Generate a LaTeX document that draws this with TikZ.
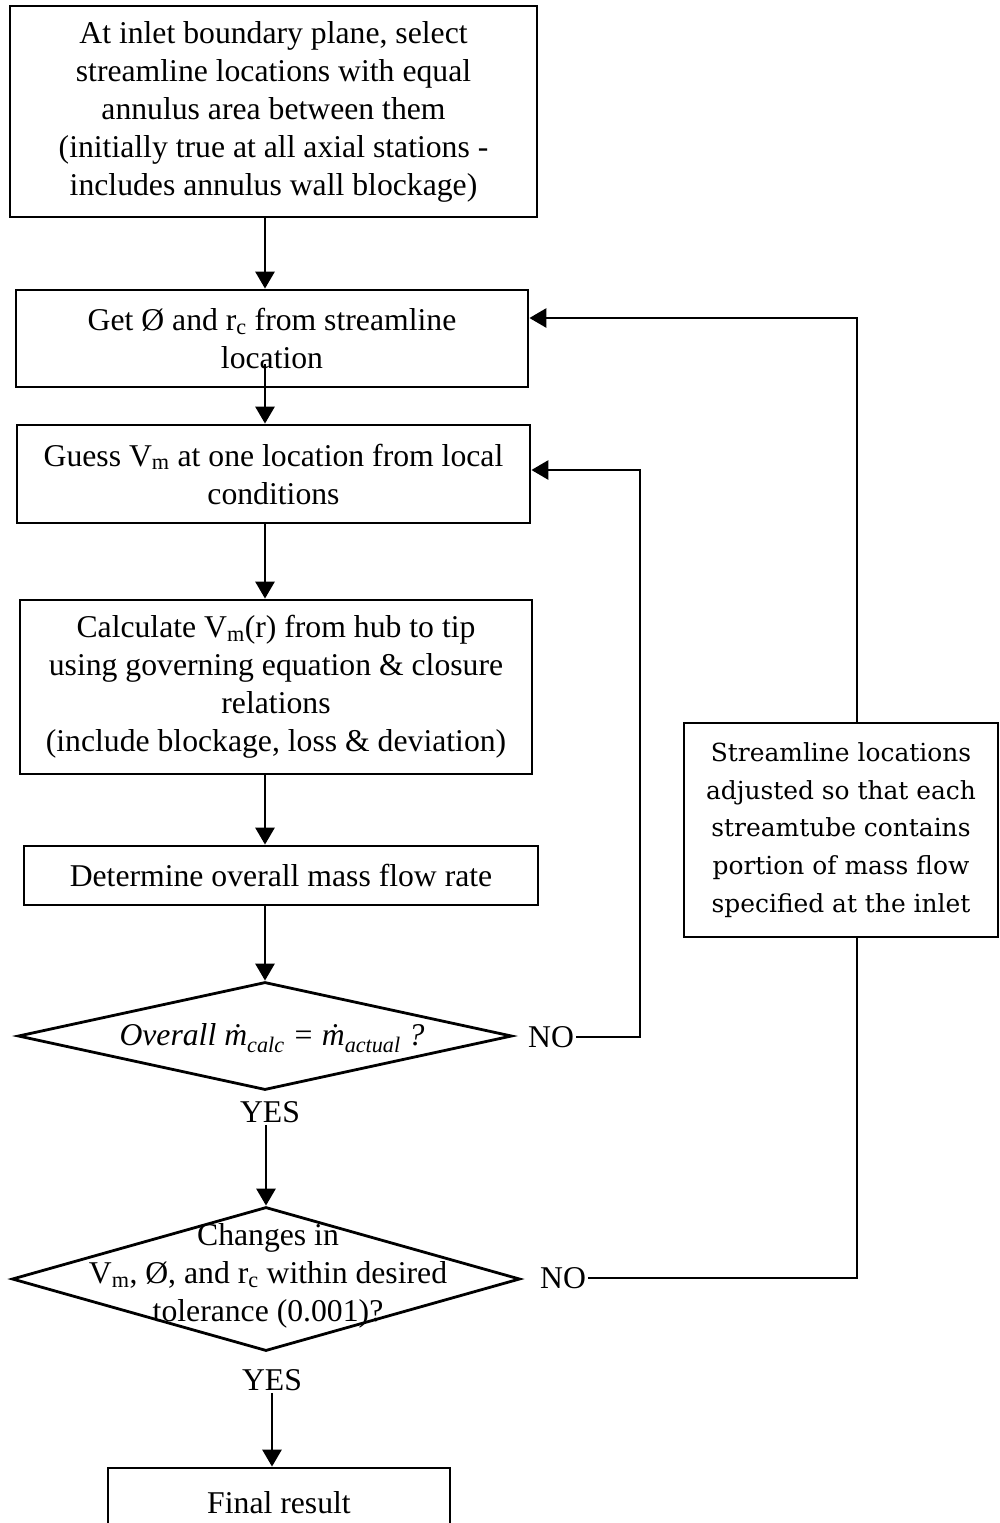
\documentclass[tikz,border=0pt]{standalone}
\usepackage{fontspec}
\setmainfont{Liberation Serif}
\newfontfamily\ajustefonte{DejaVu Serif}
\usetikzlibrary{shapes.geometric,arrows.meta}

\begin{document}
\begin{tikzpicture}[
            x=1pt, y=-1pt,
            passo/.style={shape=rectangle, draw=black, line width=2.8pt, align=center, inner sep=0pt,
                font=\fontsize{31.7}{38}\selectfont},
            teste/.style={shape=diamond, draw=black, line width=2.8pt, inner sep=0pt},
            rotulo/.style={inner sep=2pt, align=center, font=\fontsize{31.7}{38}\selectfont},
            seta/.style={line width=2.8pt, -{Triangle[length=17pt, width=19pt]}},
            linha/.style={line width=2.8pt},
        ]
        \useasboundingbox (0,0) rectangle (1000,1523);
        \coordinate (eixo) at (265,0);
        \coordinate (volta1) at (640,470);
        \coordinate (volta2) at (857,318);

        \node[passo, minimum width=527pt, minimum height=211pt] (inicio) at (273.5,111.5)
            {At inlet boundary plane, select\\ streamline locations with equal\\ annulus area between them\\
             (initially true at all axial stations -\\ includes annulus wall blockage)};
        \node[passo, minimum width=512pt, minimum height=97pt] (local) at (272,338.5)
            {Get Ø and r\textsubscript{c} from streamline\\ location};
        \node[passo, minimum width=513pt, minimum height=98pt] (chute) at (273.5,474)
            {Guess V\textsubscript{m} at one location from local\\ conditions};
        \node[passo, minimum width=512pt, minimum height=174pt] (calculo) at (276,687)
            {Calculate V\textsubscript{m}(r) from hub to tip\\ using governing equation \& closure\\ relations\\
             (include blockage, loss \& deviation)};
        \node[passo, minimum width=514pt, minimum height=59pt] (vazao) at (281,875.5)
            {Determine overall mass flow rate};
        \node[teste, minimum width=494pt, minimum height=108pt] (teste1) at (265,1036) {};
        \node[rotulo] (teste1txt) at (272,1038)
            {\itshape Overall \.{m}\textsubscript{calc} = \.{m}\textsubscript{actual} ?};
        \node[rotulo] (sim1) at (270,1112) {YES};
        \node[rotulo] (nao1) at (551,1037) {NO};
        \node[teste, minimum width=508pt, minimum height=144pt] (teste2) at (266,1279) {};
        \node[rotulo] (teste2txt) at (268,1276)
            {Changes in\\ V\textsubscript{m}, Ø, and r\textsubscript{c} within desired\\ tolerance (0.001)?};
        \node[rotulo] (sim2) at (272,1380) {YES};
        \node[rotulo] (nao2) at (563,1278) {NO};
        \node[passo, minimum width=342pt, minimum height=70pt] (fim) at (279,1503) {Final result};
        \node[passo, minimum width=314pt, minimum height=214pt, font=\ajustefonte\fontsize{24.9}{37.7}\selectfont]
            (ajuste) at (841,830)
            {Streamline locations\\ adjusted so that each\\ streamtube contains\\ portion of mass flow\\ specified at the inlet};

        \draw[seta] (inicio.south -| eixo) -- (local.north -| eixo);
        \draw[seta] ([yshift=24pt]local.south -| eixo) -- (chute.north -| eixo);
        \draw[seta] (chute.south -| eixo) -- (calculo.north -| eixo);
        \draw[seta] (calculo.south -| eixo) -- (vazao.north -| eixo);
        \draw[seta] (vazao.south -| eixo) -- (teste1.north);
        \draw[seta] (sim1.south -| teste2.north) -- (teste2.north);
        \draw[seta] (sim2.south) -- (fim.north -| sim2);

        % laços de retorno
        \draw[seta] (nao1.east) -| (volta1) -- (volta1 -| chute.east);
        \draw[linha] (nao2.east) -| (ajuste.south -| volta2);
        \draw[seta] (ajuste.north -| volta2) -- (volta2) -- (volta2 -| local.east);

    \end{tikzpicture}
\end{document}
